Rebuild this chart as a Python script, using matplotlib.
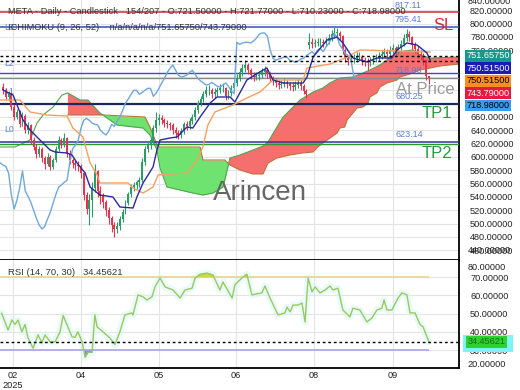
import numpy as np
import matplotlib.pyplot as plt
import matplotlib.transforms as mtrans
from matplotlib.patches import Rectangle

plt.rcParams['font.family'] = ['Liberation Sans', 'DejaVu Sans']

# daily candles (bar index 0..153)
opens = [705, 700, 690, 695, 675, 660, 668, 650, 662, 640,
         648, 625, 615, 605, 612, 598, 590, 600, 585, 595,
         612, 625, 618, 628, 605, 595, 591, 588, 586, 576,
         543, 522, 535, 554, 579, 549, 541, 532, 520, 508,
         498, 492, 496, 507, 517, 531, 544, 555, 558, 562,
         565, 592, 612, 618, 625, 643, 655, 658, 655, 651,
         649, 648, 640, 636, 633, 639, 649, 646, 654, 660,
         670, 681, 687, 694, 700, 700, 694, 697, 700, 703,
         703, 691, 696, 703, 711, 718, 727, 733, 738, 730,
         723, 720, 721, 723, 727, 730, 724, 718, 714, 711,
         708, 709, 712, 709, 706, 705, 708, 711, 706, 699,
         768, 772, 769, 771, 772, 772, 771, 774, 778, 784,
         786, 786, 781, 760, 748, 745, 747, 748, 750, 750,
         745, 744, 742, 744, 747, 748, 752, 755, 758, 754,
         760, 763, 758, 765, 770, 778, 785, 780, 768, 762,
         755, 752, 745, 721.5]
highs = [711, 703, 699, 697, 679, 672, 670, 667, 664, 652,
         650, 630, 619, 617, 615, 602, 606, 603, 599, 616,
         632, 628, 636, 630, 610, 599, 596, 594, 590, 578,
         548, 545, 562, 590, 581, 556, 546, 536, 525, 512,
         503, 502, 512, 522, 536, 548, 560, 563, 566, 570,
         598, 616, 624, 630, 648, 667, 664, 663, 659, 656,
         653, 651, 645, 641, 644, 653, 654, 659, 665, 675,
         686, 692, 699, 706, 708, 704, 703, 705, 710, 711,
         705, 701, 708, 716, 724, 733, 740, 746, 741, 733,
         728, 727, 729, 733, 736, 733, 728, 722, 719, 715,
         716, 718, 716, 713, 712, 714, 717, 715, 709, 702,
         786, 778, 777, 779, 778, 777, 780, 784, 790, 795,
         793, 789, 783, 763, 752, 753, 755, 757, 758, 753,
         750, 749, 750, 753, 755, 758, 761, 764, 762, 766,
         769, 767, 770, 776, 784, 792, 789, 782, 772, 766,
         760, 756, 747, 721.77]
lows = [695, 686, 684, 671, 655, 657, 645, 647, 636, 634,
        620, 610, 598, 600, 592, 582, 587, 580, 582, 592,
        609, 613, 615, 600, 590, 584, 580, 579, 568, 536,
        515, 498, 510, 548, 540, 530, 524, 512, 500, 488,
        480, 486, 491, 503, 514, 528, 540, 549, 552, 555,
        562, 588, 607, 612, 620, 638, 648, 649, 645, 643,
        641, 634, 629, 627, 628, 635, 641, 642, 650, 656,
        666, 677, 683, 690, 693, 688, 689, 692, 696, 697,
        686, 687, 692, 699, 707, 714, 722, 728, 725, 717,
        714, 715, 716, 719, 722, 719, 712, 708, 705, 702,
        703, 705, 703, 700, 699, 701, 704, 700, 694, 688,
        762, 764, 765, 766, 766, 765, 767, 770, 774, 779,
        780, 775, 755, 742, 738, 740, 741, 742, 744, 738,
        737, 730, 736, 740, 742, 744, 747, 750, 748, 750,
        755, 752, 754, 761, 766, 774, 774, 762, 756, 749,
        746, 738, 715, 710.23]
closes = [700, 690, 695, 675, 660, 668, 650, 662, 640, 648,
          625, 615, 605, 612, 598, 590, 600, 585, 595, 612,
          625, 618, 628, 605, 595, 591, 588, 586, 576, 543,
          522, 535, 554, 579, 549, 541, 532, 520, 508, 498,
          492, 496, 507, 517, 531, 544, 555, 558, 562, 565,
          592, 612, 618, 625, 643, 655, 658, 655, 651, 649,
          648, 640, 636, 633, 639, 649, 646, 654, 660, 670,
          681, 687, 694, 700, 700, 694, 697, 700, 703, 703,
          691, 696, 703, 711, 718, 727, 733, 738, 730, 723,
          720, 721, 723, 727, 730, 724, 718, 714, 711, 708,
          709, 712, 709, 706, 705, 708, 711, 706, 699, 695,
          772, 769, 771, 772, 772, 771, 774, 778, 784, 786,
          786, 781, 760, 748, 745, 747, 748, 750, 750, 745,
          744, 742, 744, 747, 748, 752, 755, 758, 754, 760,
          763, 758, 765, 770, 778, 785, 780, 768, 762, 755,
          752, 745, 721.5, 718.98]

# ichimoku lines (bar, price)
tenkan_x = [0, 3.6, 7.2, 9.7, 12.2, 16.9, 18.7, 23, 24.8, 26.6, 29.5, 31.3, 34.8, 39.5, 42,
            46.7, 48.1, 50.3, 53.9, 55.3, 56.4, 60, 62.5, 66.1, 68.2, 70.8, 74.4, 76.9, 81.6,
            83.3, 87.6, 91.6, 94.8, 97, 100.6, 107.8, 109.2, 111.4, 116.4, 120, 122.1, 125.7,
            130.7, 134.3, 139.7, 141.5, 145.1, 148.7, 152.3, 153.4]
tenkan_v = [700.5, 693, 655.5, 640.5, 630, 610.5, 607.5, 606, 603, 591, 576, 555, 543, 540, 525,
            523.5, 540, 561, 585, 610.5, 625.5, 628.5, 630, 645, 643.5, 660, 681, 690, 690,
            682.5, 715.5, 726, 733.5, 715.5, 711, 711, 720, 750, 775.5, 780, 771, 748.5,
            742.5, 748.5, 748.5, 760.5, 771, 768, 756, 745.5]
kijun_x = [-1.1, 6.1, 9.7, 15.8, 23, 25.1, 28.7, 31.3, 33.8, 34.8, 44.9, 46.7, 50.3, 53.9, 55.7,
           66.1, 69.7, 71.8, 73.6, 76.1, 82.6, 87.6, 92.3, 97, 107.8, 109.2, 117.5, 122.8,
           128.2, 153.4]
kijun_v = [685.5, 685.5, 667.5, 663, 661.5, 643.5, 630, 591, 573, 561, 561, 553.5, 546, 555, 573,
           576, 595.5, 615, 648, 667.5, 678, 688.5, 697.5, 715.5, 715.5, 733.5, 739.5, 748.5,
           760.5, 757.5]
span_a_x = [-1.1, 4.3, 9.7, 12.2, 14.4, 18, 21.2, 23.3, 27.7, 30.5, 34.8, 35.9, 40.9, 50.3, 52.8,
            55.3, 56.4, 58.9, 63.6, 68.2, 71.8, 75.4, 79, 80.1, 81.5, 85.1, 89.8, 93.4, 95.2,
            98.4, 100.6, 104.2, 106.7, 111.4, 114.9, 117.4, 121, 125.7, 129.3, 131.8, 135.4,
            137.9, 141.5, 147.3, 149.8, 153.4, 163.8]
span_a_v = [615, 615, 625.5, 651, 663, 675, 693, 696, 685.5, 685.5, 666, 663, 648, 643.5, 633,
            610.5, 583.5, 555, 550.5, 546, 543, 546, 555, 573, 598.5, 603, 610.5, 616.5, 622.5,
            645, 660, 675, 685.5, 697.5, 703.5, 711, 718.5, 720, 726, 730.5, 738,
            745.5, 757.5, 760.5, 753, 748.5, 750]
span_b_x = [23.3, 35.9, 51, 52.8, 54.6, 55.7, 70.8, 71.8, 79.7, 81.5, 85.1, 89.8, 93.4, 95.2,
            98.4, 103.1, 107.4, 111.4, 113.1, 114.9, 117.5, 120, 121, 122.8, 123.6, 125.7,
            127.2, 129.3, 131.1, 131.8, 134.3, 135.4, 137.9, 141.5, 142.6, 147.3, 149.8,
            153.4, 157, 163.8]
span_b_v = [663, 663, 660, 645, 625.5, 615, 615, 595.5, 595.5, 588, 580.5, 574.5, 574.5, 591,
            598.5, 603, 606, 607.5, 615, 621, 628.5, 636, 643.5, 645, 655.5, 666,
            673.5, 675, 681, 690, 696, 705, 711, 715.5, 720, 726, 730.5,
            733.5, 736.5, 739.5]

rsi_x = [-0.5, 1.8, 3.2, 4.3, 5.4, 6.8, 7.9, 9, 10.8, 12.6, 14, 15.1, 16.9, 18.7, 20.5, 21.6,
         24.8, 25.9, 26.9, 28.4, 29.5, 30.5, 32, 33, 33.8, 35.9, 38.4, 40.2, 42, 43.8, 46.3,
         46.7, 48.5, 50.3, 51.7, 53.5, 54.6, 56.4, 58.2, 61.1, 63.6, 65.4, 67.9, 69, 70.8,
         73.3, 75.4, 77.9, 79, 82.3, 83.3, 85.8, 87.6, 89.4, 93, 94.1, 95.9, 98.8, 101.3, 102,
         103.1, 104.2, 106, 107.4, 108.5, 109.6, 111, 112.1, 113.9, 115.7, 117.5, 118.5,
         120.3, 122.1, 124.6, 125.7, 128.2, 130.7, 132.5, 134.3, 136.1, 136.9, 137.9, 139.7,
         141.9, 143.3, 145.1, 146.2, 148, 149.8, 150.9, 153]
rsi_v = [50.2, 41, 46.5, 44, 46.5, 40, 44, 36.6, 31, 38.3, 34, 38.3, 34.5, 34.5, 40, 49,
         37.2, 37, 40, 34.5, 26, 28.8, 28.8, 49.3, 42.7, 40, 36.6, 33, 40, 49.3, 50.4,
         49.3, 60.3, 59.2, 57.5, 59.2, 64.7, 69.6, 64.7, 63, 58.6, 63, 64, 69.6, 71.7,
         72.3, 71.3, 63, 67.4, 58.6, 65.8, 69.6, 71.7, 60.3, 61.4, 65.2, 58.6, 49.3, 50.4, 53.6,
         51, 54.7, 54.7, 55.8, 45.4, 69.6, 62, 64.7, 61.4, 63, 65.2, 63,
         64, 52, 48.2, 53, 52, 45.4, 47.6, 52, 53, 57.5, 52, 52,
         58.6, 61.4, 60.3, 50.4, 50.4, 44, 42.7, 34.45621]
rsi_last = 34.45621

# horizontal levels
sl_level = 817.11
l3_level = 795.41
blue_level = 726.0
last_close = 718.98
tp1_level = 680.25
tp2_level = 623.14
tp2_green = 619.15
dash_levels = [751.6575, 743.79]

# right side price boxes (value, background, text colour)
boxes = [(751.6575, '#17988a', 'white'), (750.515, '#1c1cb4', 'white'),
         (750.515, '#ff8c1e', 'black'), (743.79, '#e31b3f', 'white'),
         (718.98, '#3c9cf0', 'black')]

tick_bars = [3.6, 28, 56, 83.7, 111.7, 140.1]
tick_labels = ['02\n2025', '04', '05', '06', '08', '09']

FS = 6.6
W, H = 520, 390
fig = plt.figure(figsize=(5.2, 3.9), dpi=100)
ax = fig.add_axes([0, 1 - 260 / H, 459 / W, 260 / H])
ax2 = fig.add_axes([0, 1 - 368 / H, 459 / W, 108 / H], sharex=ax)

xmin, xmax = -1.08, 163.8
ax.set_xlim(xmin, xmax)
ax.set_ylim(445.5, 835.5)

grid_c = '#e4e4e4'
for a in (ax, ax2):
    a.set_xticks(tick_bars)
    a.grid(True, color=grid_c, lw=0.8)
    a.set_axisbelow(True)
    for s in ('left', 'top'):
        a.spines[s].set_visible(False)
    for s in ('right', 'bottom'):
        a.spines[s].set_linewidth(1.3)
    a.yaxis.tick_right()
    a.tick_params(axis='y', length=0, pad=8, labelsize=FS, labelcolor='#222')
    a.tick_params(axis='x', length=0)

ax.tick_params(axis='x', labelbottom=False)
ax.set_yticks(np.arange(460, 821, 20))
# labels hidden behind the price boxes are left blank
ax.yaxis.set_major_formatter(plt.FuncFormatter(
    lambda v, p: '' if 670 < v < 750 else f'{v:.5f}'))

# cloud
gx = np.linspace(span_b_x[0], span_a_x[-1], 1500)
ga = np.interp(gx, span_a_x, span_a_v)
gb = np.interp(gx, span_b_x, span_b_v)
ax.fill_between(gx, ga, gb, where=ga >= gb, interpolate=True, color='#f56f6f', lw=0, zorder=1)
ax.fill_between(gx, ga, gb, where=ga < gb, interpolate=True, color='#6fe36f', lw=0, zorder=1)
ax.plot(span_a_x, span_a_v, color='#4ea64e', lw=0.8, zorder=2)
ax.plot(span_b_x, span_b_v, color='#c0703c', lw=0.8, zorder=2)

# level lines
ax.axhline(sl_level, color='#d22a3a', lw=1.1, zorder=3)
ax.axhline(l3_level, color='#3b4cc0', lw=1.1, zorder=3)
ax.axhline(blue_level, color='#3b4cc0', lw=1.0, zorder=3)
ax.axhline(last_close, color='#8a8a8a', lw=1.0, zorder=3)
ax.axhline(tp1_level, color='#1b2a5c', lw=1.6, zorder=3)
ax.axhline(tp2_level, color='#34349a', lw=1.1, zorder=3)
ax.axhline(tp2_green, color='#2a9a2a', lw=1.0, zorder=3)
for lv in dash_levels:
    ax.axhline(lv, color='black', lw=1.0, ls=(0, (2, 2)), zorder=6)

# candles
o = np.array(opens)
c = np.array(closes)
x = np.arange(len(c))
col = np.where(c >= o, '#2e9a6a', '#e0364f')
ax.vlines(x, lows, highs, colors=col, lw=0.8, zorder=4)
ax.bar(x, np.maximum(np.abs(c - o), 1.0), bottom=np.minimum(o, c), width=0.7,
       color=col, lw=0, zorder=4)

# ichimoku lines
ax.plot(x - 26, c, color='#6fa8dc', lw=1.0, zorder=5)
ax.plot(kijun_x, kijun_v, color='#f4a060', lw=1.0, zorder=5)
ax.plot(tenkan_x, tenkan_v, color='#2a2a9c', lw=1.0, zorder=5)

# header texts
fig.text(8 / W, 1 - 12 / H,
         'META - Daily - Candlestick   154/207 - O:721.50000 - H:721.77000 - L:710.23000 - C:718.98000',
         fontsize=6.7, color='#333', va='center')
fig.text(8 / W, 1 - 28 / H, 'ICHIMOKU (9, 26, 52)    n/a/n/a/n/a/751.65750/743.79000',
         fontsize=6.7, color='#333', va='center')

bt = mtrans.blended_transform_factory(ax.transAxes, ax.transData)
for lv, lab in [(sl_level, '817.11'), (l3_level, '795.41'), (last_close, '718.98'),
                (tp1_level, '680.25'), (tp2_level, '623.14')]:
    ax.annotate(lab, xy=(395 / 459, lv), xycoords=bt, xytext=(0, 5), textcoords='offset points',
                fontsize=6.5, color='#5a7cd4', va='center', ha='left', zorder=7)
for lv, lab in [(795.0, 'L3'), (741.0, 'L2'), (697.5, 'L1'), (640.5, 'L0')]:
    ax.text(4 / 459, lv, lab, transform=bt, fontsize=6.3, color='#6484d4', va='center')

ax.text(443 / 459, 798, 'SL', transform=bt, fontsize=12, color='#d22a3a', ha='center', va='center')
ax.text(455 / 459, 700.5, 'At Price', transform=bt, fontsize=12, color='#9a9a9a', ha='right',
        va='center', zorder=7)
ax.text(452 / 459, 664.5, 'TP1', transform=bt, fontsize=12, color='#2a9a3a', ha='right', va='center')
ax.text(452 / 459, 604.5, 'TP2', transform=bt, fontsize=12, color='#2a9a3a', ha='right', va='center')
ax.text(260 / 459, 546, 'Arincen', transform=bt, fontsize=20, color='#666666', ha='center',
        va='center', zorder=7)

# stacked price boxes
ylo, yhi = ax.get_ylim()
prev = None
for val, bg, fg in boxes:
    fy = (val - ylo) / (yhi - ylo)
    if prev is not None:
        fy = min(fy, prev - 12.4 / 260)
    prev = fy
    ax.text(1.016, fy, f'{val:.5f}', transform=ax.transAxes, fontsize=FS, color=fg,
            va='center', ha='left', clip_on=False, zorder=8,
            bbox=dict(boxstyle='square,pad=0.15', fc=bg, ec='none'))
fig.text(468 / W, 1 - 1 / H, '840.00000', fontsize=FS, color='#222', va='center')
fig.text(468 / W, 1 - 250 / H, '440.00000', fontsize=FS, color='#222', va='center')

# RSI panel
ax2.set_ylim(20.1, 79.5)
ax2.set_yticks([30, 40, 50, 60, 70])
ax2.yaxis.set_major_formatter(plt.FormatStrFormatter('%.5f'))
ax2.set_xticklabels(tick_labels)
ax2.tick_params(axis='x', labelsize=FS, pad=2, labelcolor='#222')
ax2.text(1.0185, 0.935, '80.00000', transform=ax2.transAxes, fontsize=FS, color='#222', va='center')
ax2.text(1.0185, 0.03, '20.00000', transform=ax2.transAxes, fontsize=FS, color='#222', va='center')

rx = np.linspace(rsi_x[0], rsi_x[-1], 2000)
rv = np.interp(rx, rsi_x, rsi_v)
ax2.plot(rsi_x, rsi_v, color='#d6f7f7', lw=5, alpha=0.55, zorder=2, solid_capstyle='round')
ax2.hlines(70, xmin, rsi_x[-1], color='#e6d68a', lw=1.2, zorder=3)
ax2.hlines(30, xmin, rsi_x[-1], color='#aaa4e6', lw=1.2, zorder=3)
ax2.fill_between(rx, rv, 70, where=rv > 70, interpolate=True, color='#c4dc3c', lw=0, zorder=3)
ax2.fill_between(rx, rv, 30, where=rv < 30, interpolate=True, color='#8c8ce0', lw=0, zorder=3)
ax2.plot(rsi_x, rsi_v, color='#9cc85a', lw=1.0, zorder=4)
ax2.axhline(rsi_last, color='black', lw=1.0, ls=(0, (2, 2)), zorder=5)
ax2.text(8 / 459, 0.88, 'RSI (14, 70, 30)   34.45621', transform=ax2.transAxes, fontsize=6.8,
         color='#333', va='center')
bt2 = mtrans.blended_transform_factory(ax2.transAxes, ax2.transData)
ax2.add_patch(Rectangle((463 / W, 1 - 352 / H), 50 / W, 17 / H, transform=fig.transFigure,
                        fc='#80f4f4', ec='none', clip_on=False, zorder=7))
ax2.text(1.018, rsi_last, '34.45621', transform=bt2, fontsize=FS, color='#1a6a1a', va='center',
         ha='left', clip_on=False, zorder=8,
         bbox=dict(boxstyle='square,pad=0.15', fc='#2ed22e', ec='none'))

fig.savefig('out.png', dpi=100)
